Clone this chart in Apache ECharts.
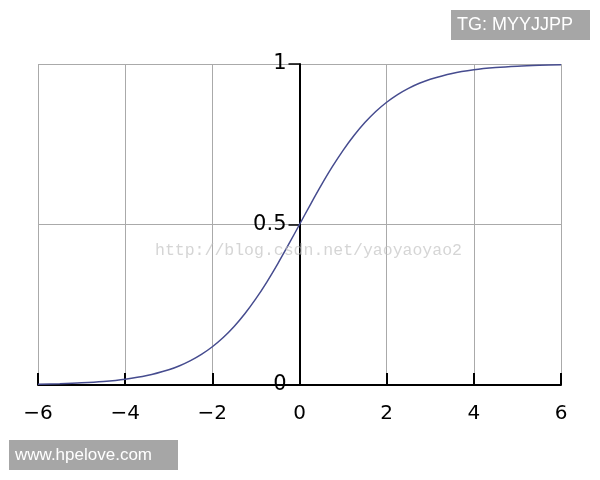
<!DOCTYPE html>
<html>
<head>
<meta charset="utf-8">
<script src="https://cdn.jsdelivr.net/npm/echarts@6/dist/echarts.min.js"></script>
<style>html,body{margin:0;padding:0;background:#fff}#c{width:600px;height:480px}</style>
</head>
<body>
<div id="c"></div>
<script>
// x positions and read-off curve values (logistic-shaped curve)
const xs = [-6, -5.5, -5, -4.5, -4, -3.5, -3, -2.75, -2.5, -2.25, -2, -1.75, -1.5, -1.25, -1, -0.75, -0.5, -0.25, 0,
            0.25, 0.5, 0.75, 1, 1.25, 1.5, 1.75, 2, 2.25, 2.5, 2.75, 3, 3.5, 4, 4.5, 5, 5.5, 6];
const ys = [0.0025, 0.0041, 0.0067, 0.011, 0.018, 0.0293, 0.0474, 0.0601, 0.0759, 0.0953, 0.1192, 0.148, 0.1824, 0.2227, 0.2689, 0.3208, 0.3775, 0.4378, 0.5,
            0.5622, 0.6225, 0.6792, 0.7311, 0.7773, 0.8176, 0.852, 0.8808, 0.9047, 0.9241, 0.9399, 0.9526, 0.9707, 0.982, 0.989, 0.9933, 0.9959, 0.9975];
const xTicks = [-6, -4, -2, 0, 2, 4, 6];
const yTicks = [0, 0.5, 1];
const watermark = 'http://blog.csdn.net/yaoyaoyao2';
const tagTop = 'TG: MYYJJPP';
const tagBottom = 'www.hpelove.com';

const chart = echarts.init(document.getElementById('c'), null, {renderer: 'canvas'});
const font = 'DejaVu Sans';
const gridLeft = 38, gridRight = 39, W = 600;
const plotW = W - gridLeft - gridRight;
const xMin = xTicks[0], xMax = xTicks[xTicks.length - 1];
// shift the y axis to x = 0 so that its labels travel with it
const yOffset = -plotW * (0 - xMin) / (xMax - xMin);
chart.setOption({
  animation: false,
  grid: {left: gridLeft, right: gridRight, top: 64, bottom: 95, containLabel: false, outerBoundsMode: 'none'},
  xAxis: {
    type: 'value', min: xMin, max: xMax, interval: 2,
    axisLine: {show: true, onZero: false, lineStyle: {color: '#000', width: 2}},
    axisTick: {show: true, inside: true, length: 12, lineStyle: {color: '#000', width: 2}},
    axisLabel: {
      color: '#000', fontFamily: font, fontSize: 20, margin: 19,
      formatter: v => String(v).replace('-', '\u2212')
    },
    splitLine: {show: true, lineStyle: {color: '#aaa', width: 1}}
  },
  yAxis: {
    type: 'value', min: yTicks[0], max: yTicks[yTicks.length - 1], interval: 0.5,
    offset: yOffset,
    axisLine: {show: true, onZero: false, lineStyle: {color: '#000', width: 2}},
    axisTick: {show: true, inside: false, length: 11, lineStyle: {color: '#000', width: 1.5}},
    axisLabel: {color: '#000', fontFamily: font, fontSize: 21, margin: 13},
    splitLine: {show: true, lineStyle: {color: '#aaa', width: 1}}
  },
  series: [{
    type: 'line', data: xs.map((x, i) => [x, ys[i]]), smooth: 0.3, symbol: 'none',
    lineStyle: {color: '#464c8f', width: 1.5}, z: 5
  }],
  graphic: [
    {type: 'text', left: 155, top: 242, z: 100, style: {text: watermark, fill: 'rgba(190,190,190,0.65)', font: '16.5px "Liberation Mono"'}},
    {type: 'group', left: 451, top: 10, z: 100, children: [
      {type: 'rect', shape: {x: 0, y: 0, width: 139, height: 30}, style: {fill: '#a6a6a6'}},
      {type: 'text', x: 6, y: 15, style: {text: tagTop, fill: '#fff', font: '18px "Liberation Sans"', verticalAlign: 'middle'}}
    ]},
    {type: 'group', left: 9, top: 440, z: 100, children: [
      {type: 'rect', shape: {x: 0, y: 0, width: 169, height: 30}, style: {fill: '#a6a6a6'}},
      {type: 'text', x: 6, y: 15, style: {text: tagBottom, fill: '#fff', font: '17px "Liberation Sans"', verticalAlign: 'middle'}}
    ]}
  ]
});
</script>
</body>
</html>
